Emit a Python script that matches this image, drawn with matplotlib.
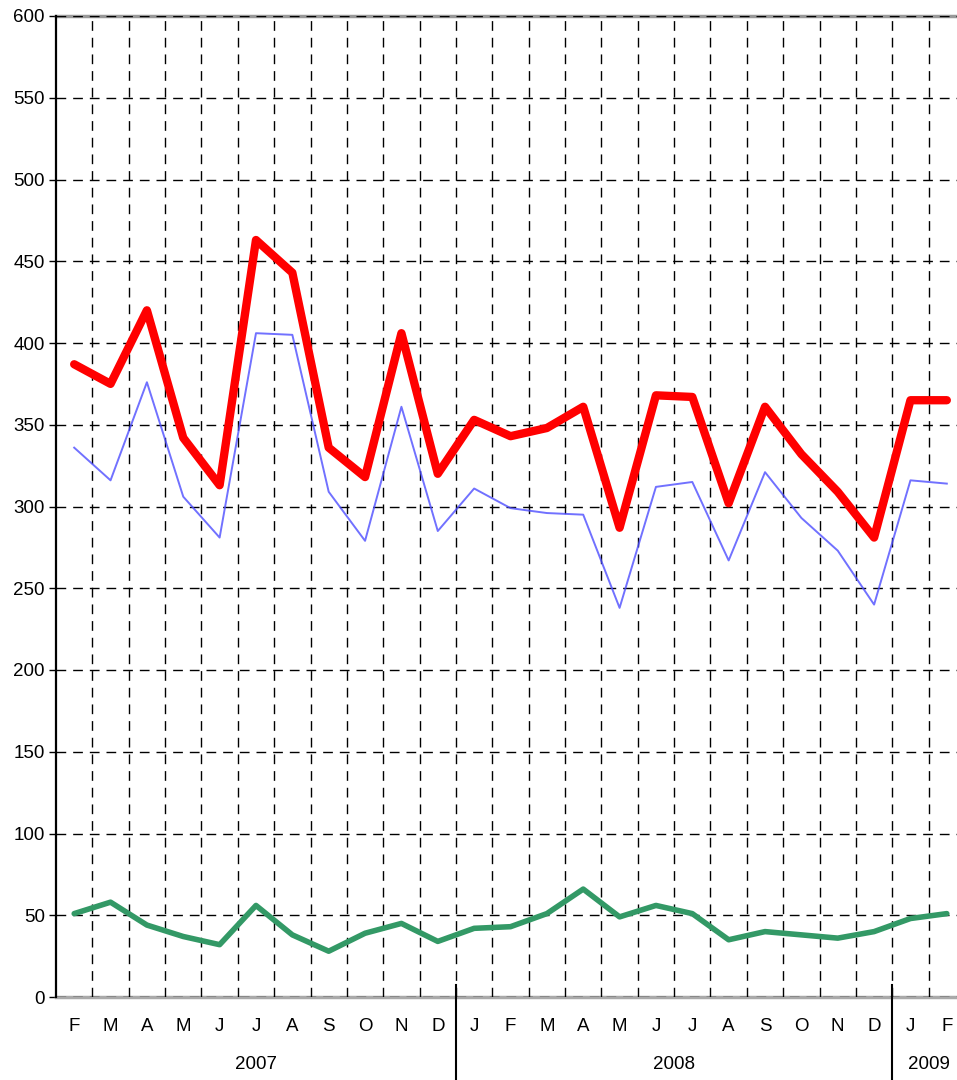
import matplotlib
matplotlib.use("Agg")
import matplotlib.pyplot as plt
import matplotlib.transforms as mtransforms

plt.rcParams['font.family'] = ['Liberation Sans', 'DejaVu Sans']

months = ["F", "M", "A", "M", "J", "J", "A", "S", "O", "N", "D",
          "J", "F", "M", "A", "M", "J", "J", "A", "S", "O", "N", "D",
          "J", "F"]
years = ["2007", "2008", "2009"]
year_spans = [(0, 10), (11, 22), (23, 24)]

red_vals = [387, 375, 420, 342, 313, 463, 443, 336, 318, 406, 320,
            353, 343, 348, 361, 287, 368, 367, 302, 361, 332, 309, 281,
            365, 365]
blue_vals = [336, 316, 376, 306, 281, 406, 405, 309, 279, 361, 285,
             311, 299, 296, 295, 238, 312, 315, 267, 321, 293, 273, 240,
             316, 314]
green_vals = [51, 58, 44, 37, 32, 56, 38, 28, 39, 45, 34,
              42, 43, 51, 66, 49, 56, 51, 35, 40, 38, 36, 40,
              48, 51]
yticks = list(range(0, 601, 50))

fig = plt.figure(figsize=(9.57, 10.8), dpi=100)
ax = fig.add_axes([56/957, 1-997/1080, 909/957, 981/1080])

x = list(range(len(months)))
ax.set_xlim(-0.5, len(months) - 0.5)
ax.set_ylim(0, 600)

# grid
for y in yticks:
    ax.axhline(y, color='black', lw=1, ls=(0, (7, 5)), zorder=2.6)
for i in range(len(months) - 1):
    ax.axvline(i + 0.5, color='black', lw=1, ls=(0, (7, 5)), zorder=2.6)

ax.plot(x, blue_vals, color='#4d4dff', lw=1.4, alpha=0.8, zorder=4)
ax.plot(x, red_vals, color='#ff0000', lw=6, zorder=5, solid_joinstyle='round', solid_capstyle='round')
ax.plot(x, green_vals, color='#339966', lw=4, zorder=5, solid_joinstyle='round', solid_capstyle='round')

ax.spines['right'].set_visible(False)
ax.spines['top'].set_color('#999999')
ax.spines['top'].set_linewidth(2.5)
ax.spines['bottom'].set_color('#aaaaaa')
ax.spines['bottom'].set_linewidth(2.5)
ax.spines['left'].set_color('black')
ax.spines['left'].set_linewidth(1.6)
ax.spines['left'].set_zorder(6)

ax.set_yticks(yticks)
ax.set_yticklabels([str(v) for v in yticks], fontsize=13.5)
ax.tick_params(axis='y', direction='out', length=5, width=1, color='black', pad=3)
ax.set_xticks(x)
ax.set_xticklabels(months, fontsize=13.5)
ax.tick_params(axis='x', length=0, pad=15)

trans = mtransforms.blended_transform_factory(ax.transData, ax.transAxes)
for (a, b), yr in zip(year_spans, years):
    ax.text((a + b) / 2, -0.0685, yr, transform=trans, ha='center', va='center', fontsize=13.5)
for (a, b) in year_spans[1:]:
    ax.plot([a - 0.5, a - 0.5], [0.0122, -0.09], transform=trans, color='black',
            lw=1.5, clip_on=False, zorder=6)

fig.savefig("out.png", dpi=100)
